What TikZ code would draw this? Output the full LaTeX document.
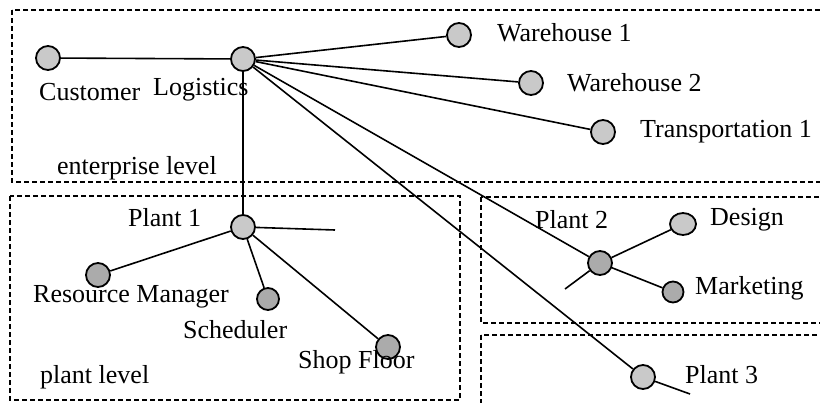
\documentclass[tikz,border=0pt]{standalone}
\usepackage{fontspec}
\setmainfont{Liberation Serif}
\usetikzlibrary{shapes.geometric}
\definecolor{nodefill}{HTML}{C9C9C9}
\definecolor{nodedark}{HTML}{ABABAB}
\begin{document}
\begin{tikzpicture}[x=1pt,y=-1pt,
  agent/.style={circle,draw,line width=1.8pt,fill=nodefill,minimum size=24pt,inner sep=0pt},
  agentdark/.style={agent,fill=nodedark},
  link/.style={line width=1.6pt},
  levelbox/.style={dash pattern=on 5pt off 3pt,line width=1.4pt},
  lbl/.style={font=\fontsize{26}{30}\selectfont,inner sep=0pt,anchor=west}]
\clip (0,0) rectangle (820,402);
\fill[white] (0,0) rectangle (820,402);

% level boundaries
\draw[levelbox] (12,10) rectangle (840,182);
\draw[levelbox] (10,196) rectangle (460,400);
\draw[levelbox] (481,197) rectangle (840,323);
\draw[levelbox] (481,335) rectangle (840,420);

% agents
\node[agent] (cust) at (48,58) {};
\node[agent] (log) at (243,59) {};
\node[agent] (wh1) at (459,35) {};
\node[agent] (wh2) at (531,83) {};
\node[agent] (tr1) at (603,132) {};
\node[agent] (pl1) at (243,227) {};
\node[agentdark] (res) at (98,275) {};
\node[agentdark,minimum size=22pt] (sch) at (268,299) {};
\node[agentdark] (shop) at (388,347) {};
\node[agentdark] (pl2) at (600,263) {};
\node[agent,ellipse,minimum width=26pt,minimum height=22pt] (des) at (683,224) {};
\node[agentdark,minimum size=21pt] (mkt) at (673,292) {};
\node[agent] (pl3) at (643,377) {};

\coordinate (pl1end) at (335,230);
\coordinate (pl2end) at (565,289);
\coordinate (pl3end) at (690,394);

% connections
\draw[link] (cust) -- (log);
\draw[link] (log) -- (wh1);
\draw[link] (log) -- (wh2);
\draw[link] (log) -- (tr1);
\draw[link] (log) -- (pl2);
\draw[link] (log) -- (pl3);
\draw[link] (log) -- (pl1);
\draw[link] (pl1) -- (pl1end);
\draw[link] (pl1) -- (res);
\draw[link] (pl1) -- (sch);
\draw[link] (pl1) -- (shop);
\draw[link] (pl2) -- (des);
\draw[link] (pl2) -- (mkt);
\draw[link] (pl2) -- (pl2end);
\draw[link] (pl3) -- (pl3end);

% labels
\node[lbl] (tcust) at (39,92) {Customer};
\node[lbl] (tlog) at (153,90) {Logistics};
\node[lbl] (tent) at (57,168) {enterprise level};
\node[lbl] (twh1) at (497,33) {Warehouse 1};
\node[lbl] (twh2) at (567,83) {Warehouse 2};
\node[lbl] (ttr1) at (640,132) {Transportation 1};
\node[lbl] (tpl1) at (128,218) {Plant 1};
\node[lbl] (tres) at (33,297) {Resource Manager};
\node[lbl] (tsch) at (183,330) {Scheduler};
\node[lbl] (tshop) at (298,362) {Shop Floor};
\node[lbl] (tplant) at (40,377) {plant level};
\node[lbl] (tpl2) at (535,220) {Plant 2};
\node[lbl] (tdes) at (710,220) {Design};
\node[lbl] (tmkt) at (695,288) {Marketing};
\node[lbl] (tpl3) at (685,375) {Plant 3};
\end{tikzpicture}
\end{document}
